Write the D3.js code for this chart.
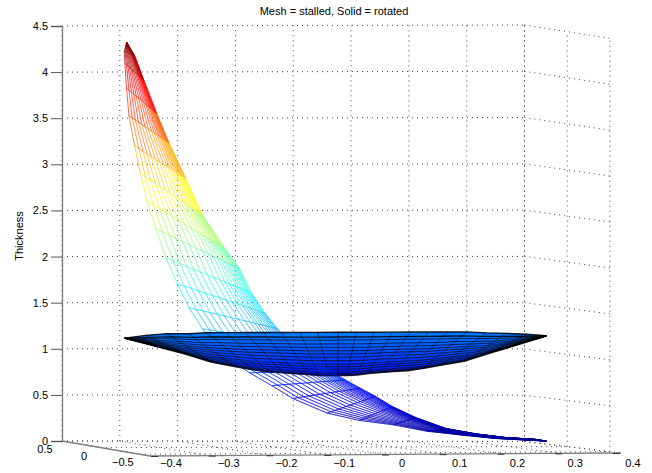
<!DOCTYPE html>
<html>
<head>
<meta charset="utf-8">
<script src="https://cdn.jsdelivr.net/npm/d3@7"></script>
<style>
  body { margin: 0; background: #fff; }
  text { font-family: "Liberation Sans", sans-serif; font-size: 11px; fill: #000; }
</style>
</head>
<body>
<div id="chart"></div>
<script>
// tick labels
var xTicks = [-0.4, -0.3, -0.2, -0.1, 0, 0.1, 0.2, 0.3, 0.4];
var yTicks = [0.5, 0, -0.5];
var zTicks = [0, 0.5, 1, 1.5, 2, 2.5, 3, 3.5, 4, 4.5];

var meshLeftX  = [-0.356, -0.360, -0.359, -0.356, -0.352, -0.342, -0.332, -0.321, -0.306, -0.288, -0.269, -0.249, -0.226, -0.204, -0.176, -0.145, -0.107, -0.071, -0.012, 0.043, 0.102, 0.159, 0.216, 0.275, 0.332, 0.364];
var meshLeftZ  = [4.41, 4.31, 4.18, 3.91, 3.61, 3.28, 2.98, 2.68, 2.38, 2.06, 1.78, 1.52, 1.29, 1.11, 0.94, 0.81, 0.67, 0.53, 0.37, 0.29, 0.24, 0.17, 0.13, 0.09, 0.07, 0.06];
var meshRightX = [-0.356, -0.342, -0.326, -0.304, -0.283, -0.254, -0.226, -0.187, -0.162, -0.142, -0.119, -0.097, -0.079, -0.050, -0.028, -0.007, 0.019, 0.045, 0.071, 0.100, 0.140, 0.192, 0.244, 0.295, 0.345, 0.364];
var meshRightZ = [4.41, 4.26, 3.99, 3.63, 3.31, 2.92, 2.53, 2.16, 1.94, 1.68, 1.46, 1.29, 1.14, 1.03, 0.93, 0.83, 0.73, 0.64, 0.55, 0.44, 0.32, 0.20, 0.14, 0.10, 0.08, 0.06];
// where the long lines cross each cross line, left edge = 0, right edge = 1
var meshRows = [0, 0.08, 0.16, 0.24, 0.32, 0.40, 0.48, 0.56, 0.63, 0.69, 0.74, 0.78, 0.82, 0.85, 0.88, 0.905, 0.93, 0.95, 0.97, 0.985, 1];

var solidTopX = [-0.359, -0.323, -0.287, -0.250, -0.218, -0.185, -0.152, -0.121, -0.090, -0.059, -0.028, 0.007, 0.038, 0.069, 0.100, 0.131, 0.162, 0.195, 0.228, 0.261, 0.295, 0.330, 0.364];
var solidTopZ = [1.19, 1.22, 1.236, 1.236, 1.247, 1.247, 1.247, 1.247, 1.247, 1.247, 1.247, 1.247, 1.247, 1.247, 1.247, 1.247, 1.247, 1.247, 1.247, 1.236, 1.23, 1.22, 1.203];
var solidBotX = [-0.359, -0.257, -0.211, -0.171, -0.140, -0.112, -0.088, -0.066, -0.045, -0.026, -0.009, 0.007, 0.022, 0.040, 0.059, 0.079, 0.102, 0.126, 0.154, 0.185, 0.223, 0.269, 0.364];
var solidBotZ = [1.19, 1.02, 0.93, 0.88, 0.845, 0.82, 0.81, 0.80, 0.79, 0.78, 0.78, 0.78, 0.78, 0.785, 0.80, 0.81, 0.82, 0.83, 0.855, 0.89, 0.93, 1.02, 1.20];
var solidRows = [0, 0.11, 0.18, 0.27, 0.35, 0.43, 0.5, 0.58, 0.66, 0.74, 0.8, 0.86, 0.92, 0.96, 1];

// setup dimensions
var width = 652,
    height = 473;

// add svg
var svg = d3.select("#chart").append("svg")
  .attr("width", width)
  .attr("height", height)
  .style("display", "block");

// setup scales, the box is slightly in perspective so each corner gets its own
var xBack = d3.scaleLinear().domain([-0.4, 0.4]).range([62, 524.5]);
var xFront = d3.scaleLinear().domain([-0.4, 0.4]).range([150, 621]);
var xTickPos = d3.scaleLinear().domain([-0.4, 0.4]).range([155, 617]);
var depth = d3.scaleLinear().domain([0.5, -0.63]).range([0, 1]);
var across = d3.scaleLinear().domain([-0.4, 0.4]).range([0, 1]);
var zBackLeft = d3.scaleLinear().domain([0, 4.5]).range([441, 26]);
var zBackRight = d3.scaleLinear().domain([0, 4.5]).range([441.5, 25]);
var zFrontLeft = d3.scaleLinear().domain([0, 4.5]).range([456, 44]);
var zFrontRight = d3.scaleLinear().domain([0, 4.5]).range([453, 40]);

// jet colormap over the blade height
var jet = d3.scaleLinear()
  .domain([0.06, 0.6, 1.67, 2.78, 3.87, 4.41])
  .range(["#00008f", "#0000ff", "#00ffff", "#ffff00", "#ff0000", "#800000"]);

function mix(a, b, t) { return a + (b - a) * t; }

// 3d to picture
function project(x, y, z) {
  var t = depth(y),
      u = across(x);
  return [
    mix(xBack(x), xFront(x), t),
    mix(mix(zBackLeft(z), zBackRight(z), u), mix(zFrontLeft(z), zFrontRight(z), u), t)
  ];
}

function seg(sel, a, b) {
  sel.attr("x1", a[0]).attr("y1", a[1]).attr("x2", b[0]).attr("y2", b[1]);
}

// grid
var grid = svg.append("g")
  .attr("fill", "none")
  .attr("stroke", "#444")
  .attr("stroke-width", 1)
  .attr("stroke-dasharray", "1 4");

function gridLine(a, b) { grid.append("line").call(seg, a, b); }

xTicks.forEach(function(x) {
  gridLine(project(x, 0.5, 0), project(x, 0.5, 4.5));
  gridLine(project(x, 0.5, 0), project(x, -0.63, 0));
});
zTicks.forEach(function(z) {
  gridLine(project(-0.4, 0.5, z), project(0.4, 0.5, z));
  gridLine(project(0.4, 0.5, z), project(0.4, -0.5, z));
});
yTicks.forEach(function(y) {
  gridLine(project(-0.4, y, 0), project(0.4, y, 0));
  gridLine(project(0.4, y, 0), project(0.4, y, 4.5));
});

// axes
var zAxis = svg.append("g")
  .attr("transform", "translate(62,0)")
  .call(d3.axisLeft(zBackLeft).tickValues(zTicks).tickSize(11).tickPadding(3).tickFormat(d3.format("")));
zAxis.select(".domain").attr("stroke", "#808080").attr("stroke-width", 1.4);
zAxis.selectAll(".tick line").attr("stroke", "#555");
zAxis.selectAll("text").style("font-size", "11px").style("font-family", "Liberation Sans");

var frame = svg.append("g").attr("stroke", "#808080").attr("stroke-width", 1.3);
frame.append("line").call(seg, project(-0.4, 0.5, 0), project(-0.4, -0.63, 0));
frame.append("line").call(seg, project(-0.4, -0.63, 0), project(0.4, -0.63, 0));

var labels = svg.append("g").attr("text-anchor", "middle");

xTicks.forEach(function(x) {
  var p = project(x, -0.63, 0),
      px = xTickPos(x);
  svg.append("line").attr("stroke", "#333").attr("stroke-width", 1)
    .attr("x1", px - 4).attr("y1", p[1] + 0.5).attr("x2", px + 3).attr("y2", p[1] + 0.5);
  labels.append("text").attr("x", px + 16).attr("y", 467).text(d3.format("")(x));
});
yTicks.forEach(function(y) {
  var p = project(-0.4, y, 0);
  labels.append("text").attr("x", p[0] - 17).attr("y", p[1] + 12).text(d3.format("")(y));
});

// title and label
svg.append("text")
  .attr("x", 334).attr("y", 15)
  .attr("text-anchor", "middle")
  .text("Mesh = stalled, Solid = rotated");
svg.append("text")
  .attr("transform", "translate(23,236) rotate(-90)")
  .attr("text-anchor", "middle")
  .text("Thickness");

// node where a long line crosses a cross line
function node(ax, az, bx, bz, i, f) {
  return { x: mix(ax[i], bx[i], f), z: mix(az[i], bz[i], f) };
}

// mesh segments of one surface, each coloured by its height
function surfaceSegments(ax, az, bx, bz, rows) {
  var out = [];
  rows.forEach(function(f, r) {
    for (var i = 0; i < ax.length; i++) {
      var n = node(ax, az, bx, bz, i, f);
      if (i < ax.length - 1) out.push([n, node(ax, az, bx, bz, i + 1, f)]);
      if (r < rows.length - 1) out.push([n, node(ax, az, bx, bz, i, rows[r + 1])]);
    }
  });
  return out;
}

var meshSegments = surfaceSegments(meshLeftX, meshLeftZ, meshRightX, meshRightZ, meshRows);

function drawMesh(parent, data, opacity) {
  parent.append("g")
    .attr("stroke-width", 0.7)
    .attr("stroke-opacity", opacity)
    .selectAll("line")
    .data(data)
    .enter().append("line")
      .attr("stroke", function(d) { return jet((d[0].z + d[1].z) / 2); })
      .each(function(d) {
        d3.select(this).call(seg, project(d[0].x, 0, d[0].z), project(d[1].x, 0, d[1].z));
      });
}

drawMesh(svg, meshSegments, 1);

// solid surface
var line = d3.line()
  .x(function(d) { return project(d.x, 0, d.z)[0]; })
  .y(function(d) { return project(d.x, 0, d.z)[1]; });

var solid = svg.append("g");
var cells = [];
solidRows.slice(0, -1).forEach(function(f, r) {
  for (var i = 0; i < solidTopX.length - 1; i++) {
    cells.push([
      node(solidTopX, solidTopZ, solidBotX, solidBotZ, i, f),
      node(solidTopX, solidTopZ, solidBotX, solidBotZ, i + 1, f),
      node(solidTopX, solidTopZ, solidBotX, solidBotZ, i + 1, solidRows[r + 1]),
      node(solidTopX, solidTopZ, solidBotX, solidBotZ, i, solidRows[r + 1])
    ]);
  }
});

solid.selectAll("path.cell")
  .data(cells)
  .enter().append("path")
    .attr("class", "cell")
    .attr("d", function(d) { return line(d) + "Z"; })
    .attr("fill", function(d) { return jet(d3.mean(d, function(n) { return n.z; }) - 0.12); })
    .attr("stroke", function(d) { return jet(d3.mean(d, function(n) { return n.z; }) - 0.12); })
    .attr("stroke-width", 0.4);

solidRows.forEach(function(f, r) {
  solid.append("path")
    .datum(solidTopX.map(function(d, i) { return node(solidTopX, solidTopZ, solidBotX, solidBotZ, i, f); }))
    .attr("d", line)
    .attr("fill", "none")
    .attr("stroke", "#000")
    .attr("stroke-width", r == solidRows.length - 1 ? 1.8 : (r < 2 ? 1.4 : 0.8))
    .attr("stroke-opacity", 0.85);
});
solidTopX.forEach(function(d, i) {
  solid.append("path")
    .datum(solidRows.map(function(f) { return node(solidTopX, solidTopZ, solidBotX, solidBotZ, i, f); }))
    .attr("d", line)
    .attr("fill", "none")
    .attr("stroke", "#000")
    .attr("stroke-width", 0.7)
    .attr("stroke-opacity", 0.75);
});

// lower part of the mesh passes in front of the solid
drawMesh(svg, meshSegments.filter(function(d) { return d[0].z < 0.98 && d[1].z < 0.98; }), 0.45);
</script>
</body>
</html>
